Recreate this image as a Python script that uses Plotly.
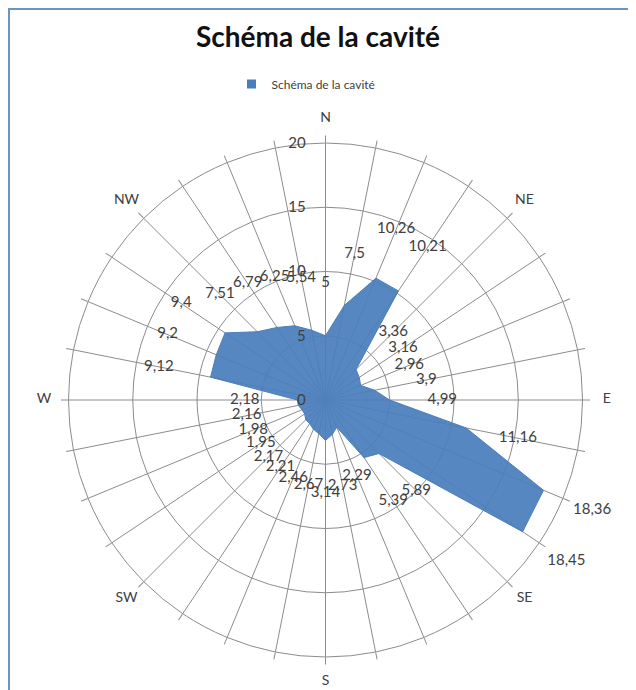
import plotly.graph_objects as go

# --- data ---
directions = ["N", "", "", "", "NE", "", "", "", "E", "", "", "", "SE", "", "", "",
              "S", "", "", "", "SW", "", "", "", "W", "", "", "", "NW", "", "", ""]
values = [5, 7.5, 10.26, 10.21, 3.36, 3.16, 2.96, 3.9, 4.99, 11.16, 18.36, 18.45,
          5.89, 5.39, 2.29, 2.73, 3.14, 2.67, 2.46, 2.21, 2.17, 1.95, 1.98, 2.16,
          2.18, 9.12, 9.2, 9.4, 7.51, 6.79, 6.25, 5.54]
value_labels = [str(v).replace(".", ",") for v in values]
radial_ticks = [0, 5, 10, 15, 20]
series_name = "Schéma de la cavité"
title_text = "Schéma de la cavité"

# page body has an 8px margin: figure coordinates = screen - 8
W, H = 628, 690
n = len(directions)
angles = [i * 360.0 / n for i in range(n)]

FONT = "Lato"
BLUE = "#4A7EBB"
GRID = "#8C8C8C"
TXT = "#404040"

RMAX = 20          # main radial range
RMAX_OVER = 23     # overlay range (room for labels outside the grid)
LABEL_OFFSET = 4.1 # data label distance outside its point (radial units)
DIR_R = 21.9       # radius of the compass labels

fig = go.Figure()
fig.add_trace(go.Scatterpolar(
    r=values + [values[0]], theta=angles + [angles[0]],
    mode="lines", fill="toself", fillcolor="rgba(74,126,187,0.93)",
    line=dict(color=BLUE, width=1), name=series_name, showlegend=False,
    hoverinfo="skip", subplot="polar"))
# legend entry (square marker like the reference)
fig.add_trace(go.Scatterpolar(
    r=[None], theta=[None], mode="markers",
    marker=dict(symbol="square", size=9, color=BLUE),
    name=series_name, showlegend=True, hoverinfo="skip", subplot="polar"))
# data labels (overlay polar with a larger range, same scale)
fig.add_trace(go.Scatterpolar(
    r=[v + LABEL_OFFSET for v in values], theta=angles, mode="text",
    text=value_labels, textposition="middle center",
    textfont=dict(family=FONT, size=15, color=TXT),
    showlegend=False, cliponaxis=False, hoverinfo="skip", subplot="polar2"))
# compass labels
fig.add_trace(go.Scatterpolar(
    r=[DIR_R] * n, theta=angles, mode="text",
    text=directions, textposition="middle center",
    textfont=dict(family=FONT, size=14, color=TXT),
    showlegend=False, cliponaxis=False, hoverinfo="skip", subplot="polar2"))

cx, cy, R = 317.5, 392.0, 257.0
R2 = R * RMAX_OVER / RMAX


def dom(rad):
    return dict(x=[(cx - rad) / W, (cx + rad) / W],
                y=[1 - (cy + rad) / H, 1 - (cy - rad) / H])


fig.update_layout(
    width=W, height=H, margin=dict(l=0, r=0, t=0, b=0, autoexpand=False),
    paper_bgcolor="white", plot_bgcolor="white",
    font=dict(family=FONT, color=TXT),
    title=dict(text="<b>" + title_text + "</b>", x=310 / W, xanchor="center",
               y=1 - 29 / H, yanchor="middle",
               font=dict(family=FONT, size=28, color="#111111")),
    legend=dict(orientation="h", x=298 / W, xanchor="center", y=1 - 76 / H,
                yanchor="middle", font=dict(family=FONT, size=12, color=TXT),
                bgcolor="rgba(0,0,0,0)", itemwidth=30),
    polar=dict(
        domain=dom(R),
        bgcolor="white",
        angularaxis=dict(
            direction="clockwise", rotation=90, tickmode="array",
            tickvals=angles, showticklabels=False, showgrid=True,
            gridcolor=GRID, gridwidth=1, showline=True, linecolor=GRID,
            linewidth=1, ticks="outside", ticklen=7, tickcolor=GRID),
        radialaxis=dict(
            range=[0, RMAX], tickmode="array", tickvals=radial_ticks,
            showline=False, gridcolor=GRID, gridwidth=1,
            ticks="outside", ticklen=14, tickcolor="rgba(0,0,0,0)",
            angle=90, side="counterclockwise", tickangle=90,
            tickfont=dict(family=FONT, size=15, color=TXT)),
    ),
    polar2=dict(
        domain=dom(R2),
        bgcolor="rgba(0,0,0,0)",
        angularaxis=dict(direction="clockwise", rotation=90, showgrid=False,
                         showline=False, showticklabels=False, ticks=""),
        radialaxis=dict(range=[0, RMAX_OVER], showgrid=False, showline=False,
                        showticklabels=False, ticks=""),
    ),
    shapes=[
        dict(type="line", xref="paper", yref="paper", x0=0, x1=1.0,
             y0=1 - 1 / H, y1=1 - 1 / H, line=dict(color="#6C93C8", width=2)),
        dict(type="line", xref="paper", yref="paper", x0=1 / W, x1=1 / W,
             y0=1, y1=0, line=dict(color="#6C93C8", width=2)),
    ],
)

fig.write_html("out.html")
